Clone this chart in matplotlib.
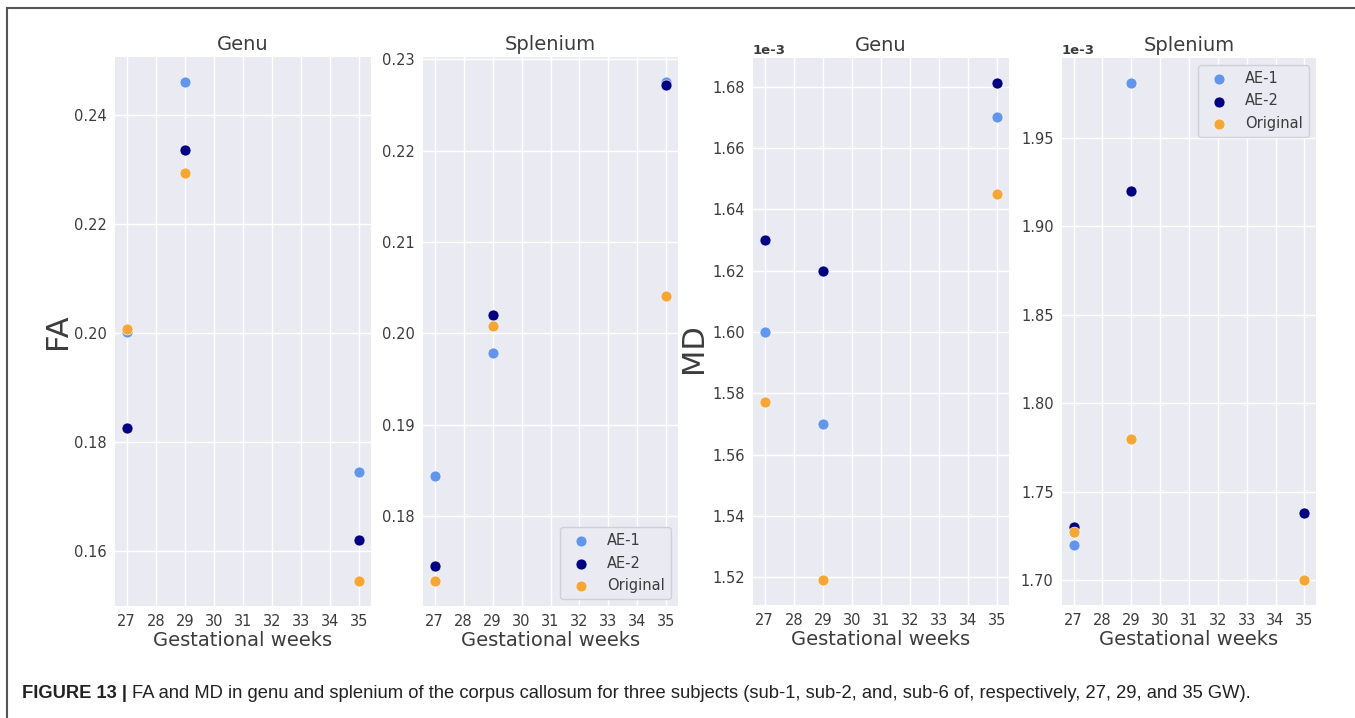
import matplotlib
matplotlib.use('Agg')
import matplotlib.pyplot as plt
from matplotlib.ticker import MultipleLocator
from matplotlib.lines import Line2D
from matplotlib import font_manager

# ---------------- data ----------------
weeks = [27, 29, 35]
series = ['AE-1', 'AE-2', 'Original']
xticks = [27, 28, 29, 30, 31, 32, 33, 34, 35]

fa_genu_ae1 = [0.2002, 0.2460, 0.1745]
fa_genu_ae2 = [0.1825, 0.2335, 0.1619]
fa_genu_orig = [0.2007, 0.2293, 0.1544]

fa_splen_ae1 = [0.1844, 0.1979, 0.2275]
fa_splen_ae2 = [0.1746, 0.2020, 0.2272]
fa_splen_orig = [0.1729, 0.2008, 0.2041]

md_genu_ae1 = [1.600e-3, 1.570e-3, 1.670e-3]
md_genu_ae2 = [1.630e-3, 1.620e-3, 1.6813e-3]
md_genu_orig = [1.577e-3, 1.519e-3, 1.645e-3]

md_splen_ae1 = [1.720e-3, 1.981e-3, 1.738e-3]
md_splen_ae2 = [1.730e-3, 1.920e-3, 1.738e-3]
md_splen_orig = [1.727e-3, 1.780e-3, 1.700e-3]

titles = ['Genu', 'Splenium', 'Genu', 'Splenium']
caption_bold = 'FIGURE 13 |'
caption_rest = ('FA and MD in genu and splenium of the corpus callosum for three subjects '
                '(sub-1, sub-2, and, sub-6 of, respectively, 27, 29, and 35 GW).')

colors = ['#6495ED', '#000080', '#F4A636']

panels = [
    (fa_genu_ae1, fa_genu_ae2, fa_genu_orig),
    (fa_splen_ae1, fa_splen_ae2, fa_splen_orig),
    (md_genu_ae1, md_genu_ae2, md_genu_orig),
    (md_splen_ae1, md_splen_ae2, md_splen_orig),
]

# ---------------- style ----------------
plt.rcParams['axes.unicode_minus'] = False
plt.rcParams['font.family'] = ['DejaVu Sans']
W, H = 1355, 718
fig = plt.figure(figsize=(W / 100, H / 100), dpi=100)
fig.patch.set_facecolor('white')

# axes boxes in pixels: left, right, top, bottom
boxes = [(115, 371, 57, 606), (423, 678, 57, 606), (753, 1009, 58, 605), (1062, 1316, 58, 605)]
ystep = [0.02, 0.01, 0.02e-3, 0.05e-3]
text_col = '#3c3c3c'

axes = []
for i, (l, r, t, b) in enumerate(boxes):
    ax = fig.add_axes([l / W, 1 - b / H, (r - l) / W, (b - t) / H])
    ax.set_facecolor('#EAEAF2')
    for s in ax.spines.values():
        s.set_visible(False)
    ax.grid(True, color='white', linewidth=1.0)
    ax.set_axisbelow(True)
    for vals, lab, c in zip(panels[i], series, colors):
        ax.scatter(weeks, vals, s=62, color=c, edgecolors='white', linewidths=0.4,
                   label=lab, zorder=3)
    ax.set_xticks(xticks)
    ax.yaxis.set_major_locator(MultipleLocator(ystep[i]))
    ax.tick_params(axis='both', length=0, labelsize=10.5, colors=text_col, pad=6)
    ax.set_title(titles[i], fontsize=14, color=text_col, pad=5)
    ax.set_xlabel('Gestational weeks', fontsize=14, color=text_col, labelpad=1)
    axes.append(ax)

axes[0].set_ylabel('FA', fontsize=22, color=text_col)
axes[0].yaxis.set_label_coords(-0.168, 0.5)
axes[2].set_ylabel('MD', fontsize=22, color=text_col)
axes[2].yaxis.set_label_coords(-0.175, 0.47)

for ax in axes[2:]:
    ax.ticklabel_format(axis='y', style='sci', scilimits=(-3, -3), useMathText=False)
    ot = ax.yaxis.get_offset_text()
    ot.set_fontsize(9.5)
    ot.set_fontweight('bold')
    ot.set_color(text_col)

for ax, loc in [(axes[1], 'lower right'), (axes[3], 'upper right')]:
    leg = ax.legend(loc=loc, fontsize=10.5, frameon=True, facecolor='#EAEAF2',
                    edgecolor='#d0d0d8', framealpha=1.0)
    for txt in leg.get_texts():
        txt.set_color(text_col)

# frame lines (top and left)
fig.add_artist(Line2D([7 / W, 1.0], [1 - 8 / H, 1 - 8 / H], color='#555555', linewidth=1.5,
                      transform=fig.transFigure))
fig.add_artist(Line2D([7 / W, 7 / W], [0.0, 1 - 8 / H], color='#555555', linewidth=1.5,
                      transform=fig.transFigure))

# caption
names = {f.name for f in font_manager.fontManager.ttflist}
narrow = 'Liberation Sans Narrow' in names
cap_font = ['Liberation Sans Narrow', 'Liberation Sans', 'DejaVu Sans'] if narrow else ['Liberation Sans', 'DejaVu Sans']
cap_size = 15.5 if narrow else 13.2
t1 = fig.text(22 / W, 1 - 693 / H, caption_bold, fontsize=cap_size, fontweight='bold',
              family=cap_font, color='#222222', va='center', ha='left')
fig.canvas.draw()
bb = t1.get_window_extent()
fig.text((bb.x1 + 5) / W, 1 - 693 / H, caption_rest, fontsize=cap_size, family=cap_font,
         color='#222222', va='center', ha='left')

fig.savefig('out.png', dpi=100)
